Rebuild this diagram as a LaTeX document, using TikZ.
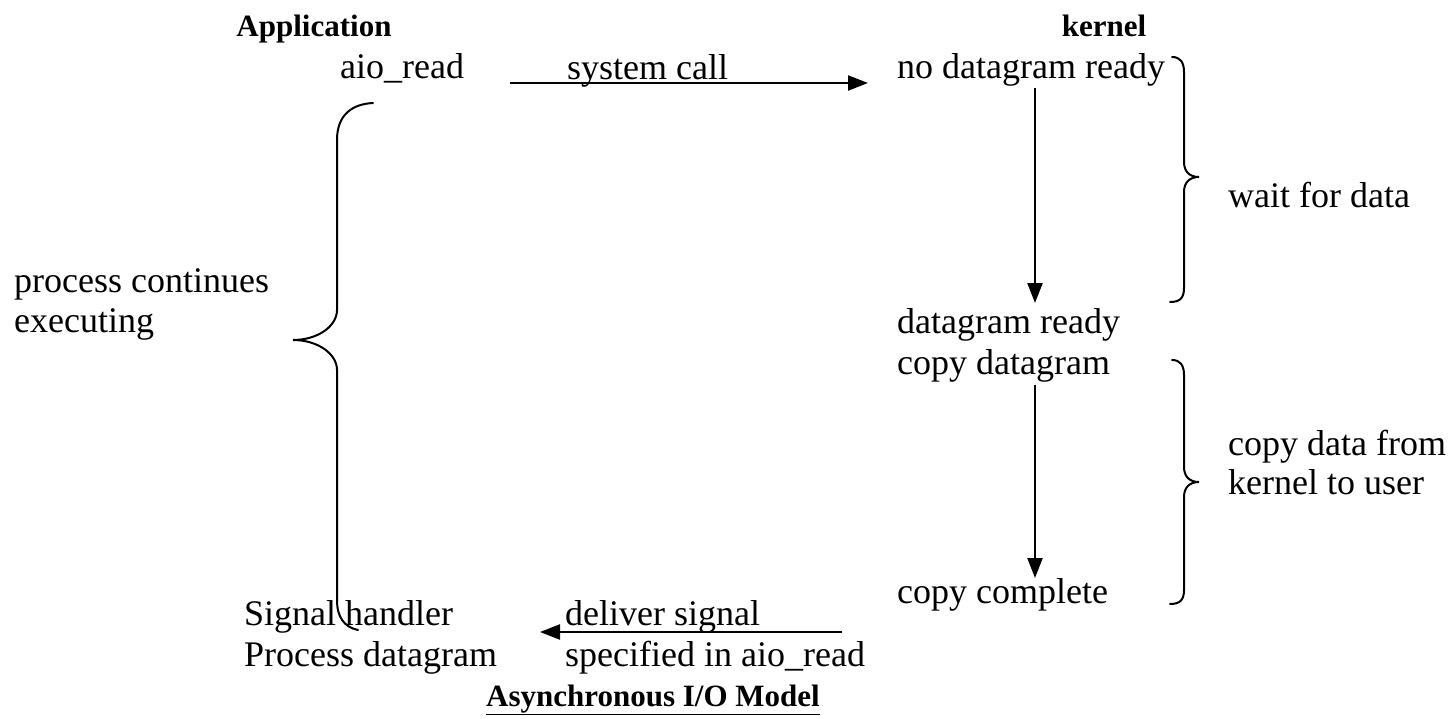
\documentclass[tikz,border=0pt]{standalone}
\usepackage{fontspec}
\setmainfont{Liberation Serif}
\usetikzlibrary{arrows.meta}
\begin{document}
\begin{tikzpicture}[x=1pt,y=-1pt,
  lbl/.style={inner sep=0pt, anchor=base west, font=\fontsize{36}{40}\selectfont},
  head/.style={inner sep=0pt, anchor=base, font=\fontsize{31}{36}\selectfont\bfseries},
  flow/.style={line width=2.3pt, -{Triangle[length=20pt,width=15pt]}},
  brace/.style={line width=2pt, line cap=round}]
\useasboundingbox (0,0) rectangle (1454,718);

% column headings
\node[head] (app) at (314,36) {Application};
\node[head] (ker) at (1104,36) {kernel};

% application side
\node[lbl] (aio) at (340,78) {aio\_read};
\node[lbl] (pc1) at (14,292) {process continues};
\node[lbl] (pc2) at (14,332) {executing};
\node[lbl] (sh) at (244,625) {Signal handler};
\node[lbl] (pd) at (244,666) {Process datagram};

% call and signal labels
\node[lbl] (sc) at (567,79) {system call};
\node[lbl] (ds) at (565,625) {deliver signal};
\node[lbl] (sp) at (565,666) {specified in aio\_read};

% kernel side
\node[lbl] (ndr) at (897,78) {no datagram ready};
\node[lbl] (dr) at (897,333) {datagram ready};
\node[lbl] (cd) at (897,374) {copy datagram};
\node[lbl] (cc) at (897,603) {copy complete};

% phase labels
\node[lbl] (wait) at (1228,207) {wait for data};
\node[lbl] (cdk1) at (1228,455) {copy data from};
\node[lbl] (cdk2) at (1228,494) {kernel to user};

% caption
\node[head] (title) at (653,706) {\underline{Asynchronous I/O Model}};

% arrow end points
\coordinate (scA) at (510,83);
\coordinate (scB) at (868,83);
\coordinate (v1a) at (1035,88);
\coordinate (v1b) at (1035,303);
\coordinate (v2a) at (1035,385);
\coordinate (v2b) at (1035,578);
\coordinate (dsA) at (842,632);
\coordinate (dsB) at (540,632);

\draw[flow] (scA) -- (scB);
\draw[flow] (v1a) -- (v1b);
\draw[flow] (v2a) -- (v2b);
\draw[flow] (dsA) -- (dsB);

% brace: wait for data
\draw[brace] (1172,57) .. controls (1180,57) and (1184,62) .. (1184,72)
  -- (1184,162) .. controls (1184,172) and (1190,177) .. (1199,177)
  .. controls (1190,177) and (1184,182) .. (1184,192)
  -- (1184,288) .. controls (1184,298) and (1180,302) .. (1170,302);

% brace: copy data from kernel to user
\draw[brace] (1172,360) .. controls (1180,360) and (1184,365) .. (1184,375)
  -- (1184,467) .. controls (1184,477) and (1190,482) .. (1199,482)
  .. controls (1190,482) and (1184,487) .. (1184,497)
  -- (1184,590) .. controls (1184,600) and (1180,604) .. (1170,604);

% brace: process continues executing
\draw[brace] (373,103) .. controls (352,104) and (337,115) .. (337,140)
  -- (337,310) .. controls (337,326) and (318,340) .. (293,340)
  .. controls (318,340) and (337,354) .. (337,370)
  -- (337,600) .. controls (337,617) and (344,627) .. (358,630);
\end{tikzpicture}
\end{document}
